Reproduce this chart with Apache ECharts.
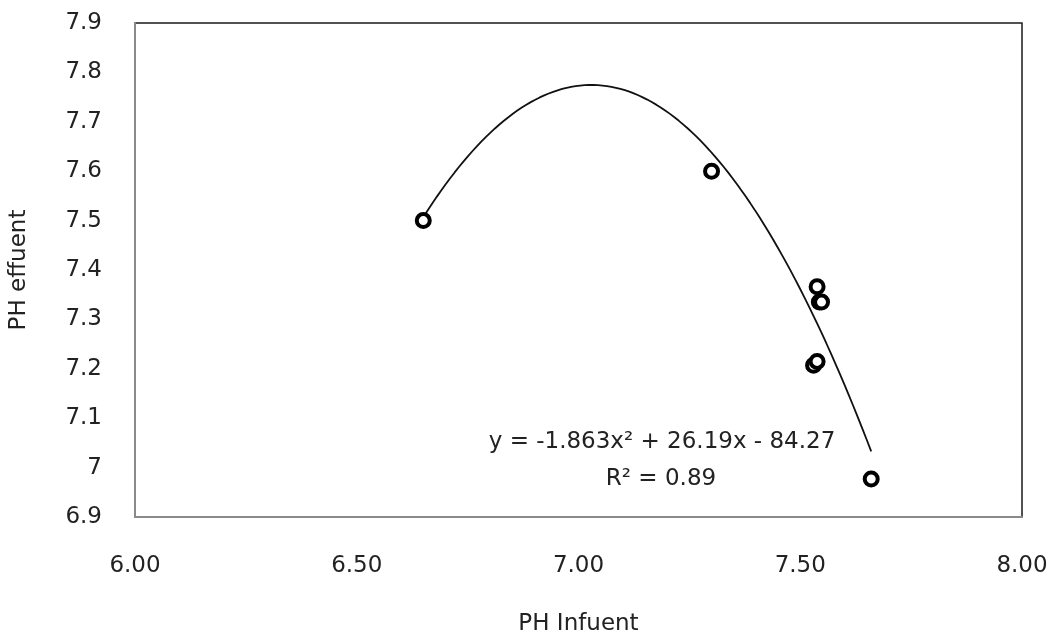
<!DOCTYPE html>
<html>
<head>
<meta charset="utf-8">
<script src="https://cdn.jsdelivr.net/npm/echarts@6/dist/echarts.min.js"></script>
<style>html,body{margin:0;padding:0;background:#fff}#c{width:1052px;height:641px}</style>
</head>
<body>
<div id="c"></div>
<script>
// Data
var phInfluent = [6.65, 7.30, 7.538, 7.543, 7.548, 7.530, 7.538, 7.66];
var phEffluent = [7.50, 7.60, 7.366, 7.335, 7.335, 7.207, 7.215, 6.977];
// Trend line coefficients as printed on the chart: y = a x^2 + b x + c
var trendCoef = [-1.863, 26.19, -84.27];
var trendLabel = ['y = -1.863x\u00B2 + 26.19x - 84.27', 'R\u00B2 = 0.89'];
var xTicks = {min: 6.0, max: 8.0, interval: 0.5};
var yTicks = {min: 6.9, max: 7.9, interval: 0.1};

var points = phInfluent.map(function (x, i) { return [x, phEffluent[i]]; });
var xMin = Math.min.apply(null, phInfluent), xMax = Math.max.apply(null, phInfluent);
var trend = [];
for (var k = 0; k <= 100; k++) {
  var x = xMin + (xMax - xMin) * k / 100;
  trend.push([x, trendCoef[0] * x * x + trendCoef[1] * x + trendCoef[2]]);
}

var font = '"DejaVu Sans", "Open Sans", sans-serif';
var fs = 23;
var txt = '#222';
var chart = echarts.init(document.getElementById('c'), null, {renderer: 'canvas'});
chart.setOption({
  animation: false,
  backgroundColor: '#fff',
  grid: {left: 133, right: 30, top: 23, bottom: 123, show: true, borderColor: '#1a1a1a', borderWidth: 1.5, backgroundColor: 'transparent'},
  xAxis: {
    type: 'value', min: xTicks.min, max: xTicks.max, interval: xTicks.interval,
    name: 'PH Infuent', nameLocation: 'middle', nameGap: 96,
    nameTextStyle: {fontFamily: font, fontSize: fs, color: txt},
    axisLine: {show: true, onZero: false, lineStyle: {color: '#8a8a8a', width: 2}},
    axisTick: {show: false}, splitLine: {show: false},
    axisLabel: {fontFamily: font, fontSize: fs, color: txt, margin: 38, formatter: function (v) { return v.toFixed(2); }}
  },
  yAxis: {
    type: 'value', min: yTicks.min, max: yTicks.max, interval: yTicks.interval,
    name: 'PH effuent', nameLocation: 'middle', nameGap: 104, nameRotate: 90,
    nameTextStyle: {fontFamily: font, fontSize: fs, color: txt},
    axisLine: {show: true, onZero: false, lineStyle: {color: '#8a8a8a', width: 2}},
    axisTick: {show: false}, splitLine: {show: false},
    axisLabel: {fontFamily: font, fontSize: fs, color: txt, margin: 33,
      formatter: function (v) { var r = Math.round(v * 10) / 10; return String(r); }}
  },
  graphic: [
    {type: 'text', x: 662, y: 442, style: {text: trendLabel[0], font: fs + 'px ' + font, fill: txt, textAlign: 'center', textVerticalAlign: 'middle'}},
    {type: 'text', x: 661, y: 479, style: {text: trendLabel[1], font: fs + 'px ' + font, fill: txt, textAlign: 'center', textVerticalAlign: 'middle'}}
  ],
  series: [
    {type: 'line', data: trend, showSymbol: false, smooth: false, lineStyle: {color: '#111', width: 1.8}, silent: true, z: 2},
    {type: 'scatter', data: points, symbol: 'circle', symbolSize: 13,
      itemStyle: {color: '#fff', borderColor: '#000', borderWidth: 4, opacity: 1}, z: 3}
  ]
});
</script>
</body>
</html>
